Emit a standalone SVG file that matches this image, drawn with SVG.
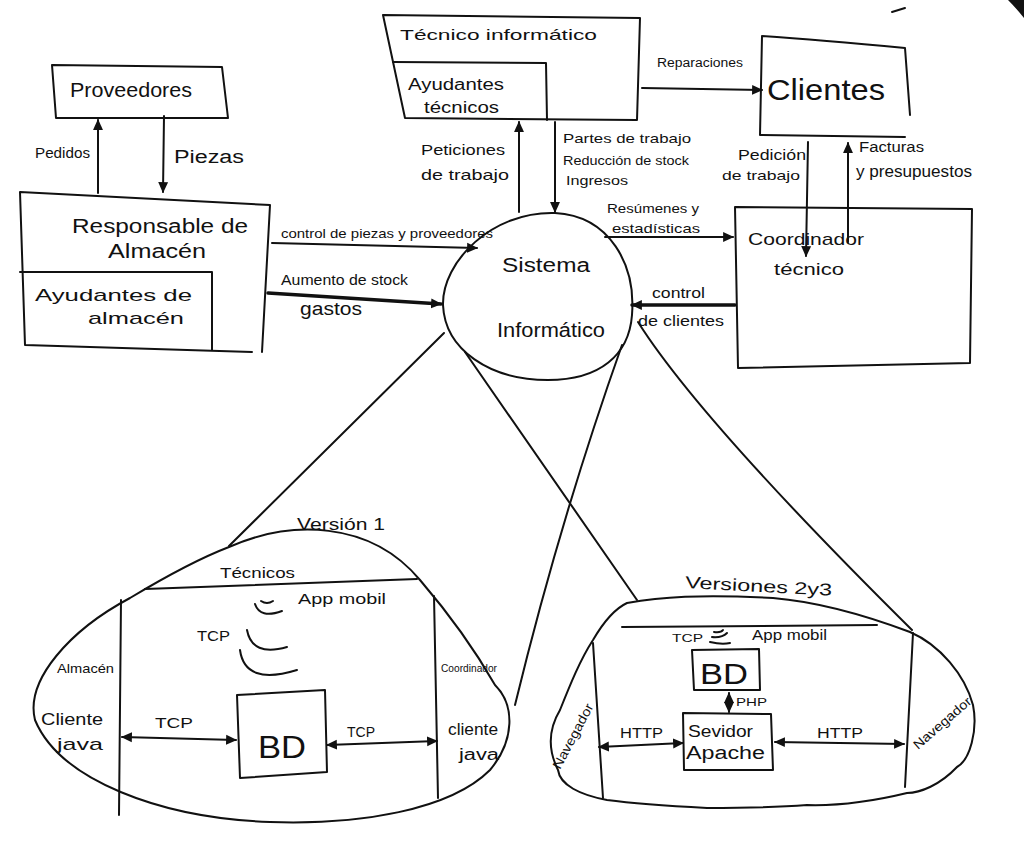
<svg xmlns="http://www.w3.org/2000/svg" width="1024" height="866" viewBox="0 0 1024 866">
  <defs>
    <marker id="head" viewBox="0 0 10 10" refX="9" refY="5" markerWidth="11" markerHeight="11" markerUnits="userSpaceOnUse" orient="auto-start-reverse">
      <path d="M0,0.5 L10,5 L0,9.5 z" fill="#111"/>
    </marker>
    <style>
      .ln { fill: none; stroke: #111; stroke-width: 2; stroke-linecap: round; stroke-linejoin: round; }
      .bold { stroke-width: 3.5; }
      .t { font-family: "Liberation Sans", "DejaVu Sans", sans-serif; fill: #111; }
    </style>
  </defs>
  <rect width="1024" height="866" fill="#fff"/>

  <!-- scanner edge marks -->
  <path d="M1008,0 Q1016,8 1024,18 L1024,0 Z" fill="#111"/>
  <path class="ln" d="M892,12 L905,8" stroke-width="2.5"/>

  <!-- Proveedores -->
  <g id="proveedores">
    <path class="ln" d="M52,65 L222,67 L228,118 L56,118 Z"/>
    <text class="t" x="70" y="97" font-size="20" textLength="122" lengthAdjust="spacingAndGlyphs">Proveedores</text>
  </g>

  <!-- Responsable de Almacén -->
  <g id="responsable-almacen">
    <path class="ln" d="M20,192 L270,205 L262,352 M252,352 L25,345 L20,192"/>
    <path class="ln" d="M20,272 L212,272 L212,350"/>
    <text class="t" x="72" y="233" font-size="20" textLength="176" lengthAdjust="spacingAndGlyphs">Responsable de</text>
    <text class="t" x="108" y="258" font-size="20" textLength="98" lengthAdjust="spacingAndGlyphs">Almacén</text>
    <text class="t" x="35" y="301" font-size="17" textLength="157" lengthAdjust="spacingAndGlyphs">Ayudantes de</text>
    <text class="t" x="88" y="324" font-size="17" textLength="96" lengthAdjust="spacingAndGlyphs">almacén</text>
  </g>

  <!-- Técnico informático -->
  <g id="tecnico-informatico">
    <path class="ln" d="M383,15 L640,18 L637,120 L405,118 Z"/>
    <path class="ln" d="M393,62 L546,63 L547,120"/>
    <text class="t" x="400" y="40" font-size="15" textLength="197" lengthAdjust="spacingAndGlyphs">Técnico informático</text>
    <text class="t" x="408" y="90" font-size="16" textLength="96" lengthAdjust="spacingAndGlyphs">Ayudantes</text>
    <text class="t" x="424" y="113" font-size="16" textLength="75" lengthAdjust="spacingAndGlyphs">técnicos</text>
  </g>

  <!-- Clientes -->
  <g id="clientes">
    <path class="ln" d="M762,36 Q820,40 905,48 L910,115 M905,137 L760,135 L762,36"/>
    <text class="t" x="767" y="100" font-size="30" textLength="118" lengthAdjust="spacingAndGlyphs">Clientes</text>
  </g>

  <!-- Coordinador técnico -->
  <g id="coordinador-tecnico">
    <path class="ln" d="M735,207 L972,209 L970,363 L738,368 Z"/>
    <text class="t" x="748" y="245" font-size="17" textLength="116" lengthAdjust="spacingAndGlyphs">Coordinador</text>
    <text class="t" x="774" y="275" font-size="17" textLength="70" lengthAdjust="spacingAndGlyphs">técnico</text>
  </g>

  <!-- Sistema Informático -->
  <g id="sistema-informatico">
    <path class="ln" d="M555,213 C610,216 636,265 632,315 C629,355 600,380 548,380 C490,380 445,350 443,305 C442,262 492,211 555,213 Z"/>
    <text class="t" x="502" y="272" font-size="20" textLength="88" lengthAdjust="spacingAndGlyphs">Sistema</text>
    <text class="t" x="497" y="337" font-size="20" textLength="108" lengthAdjust="spacingAndGlyphs">Informático</text>
  </g>

  <!-- Versión 1 -->
  <g id="version-1">
    <path class="ln" d="M229,547 C290,520 370,520 420,580 C450,615 475,650 495,685 C515,705 515,740 490,770 C450,810 360,825 270,822 C160,818 60,780 35,720 C25,680 70,630 130,598 C160,580 195,560 229,547 Z"/>
    <path class="ln" d="M145,589 L417,579"/>
    <path class="ln" d="M121,600 L119,815"/>
    <path class="ln" d="M434,596 L438,798"/>
    <path class="ln" d="M237,695 L325,690 L327,772 L240,778 Z"/>
    <path class="ln" d="M261,601 Q267,605 273,601"/>
    <path class="ln" d="M255,604 Q260,619 282,611"/>
    <path class="ln" d="M247,630 Q252,657 287,647"/>
    <path class="ln" d="M240,650 Q245,686 297,670"/>
    <path class="ln" d="M122,737 L236,740" marker-start="url(#head)" marker-end="url(#head)"/>
    <path class="ln" d="M327,745 L437,741" marker-start="url(#head)" marker-end="url(#head)"/>
    <text class="t" x="297" y="530" font-size="17" textLength="88" lengthAdjust="spacingAndGlyphs">Versión 1</text>
    <text class="t" x="220" y="578" font-size="14" textLength="75" lengthAdjust="spacingAndGlyphs">Técnicos</text>
    <text class="t" x="298" y="604" font-size="15" textLength="88" lengthAdjust="spacingAndGlyphs">App mobil</text>
    <text class="t" x="197" y="641" font-size="15" textLength="33" lengthAdjust="spacingAndGlyphs">TCP</text>
    <text class="t" x="57" y="673" font-size="13" textLength="57" lengthAdjust="spacingAndGlyphs">Almacén</text>
    <text class="t" x="41" y="725" font-size="17" textLength="62" lengthAdjust="spacingAndGlyphs">Cliente</text>
    <text class="t" x="57" y="750" font-size="17" textLength="46" lengthAdjust="spacingAndGlyphs">java</text>
    <text class="t" x="441" y="672" font-size="11" textLength="56" lengthAdjust="spacingAndGlyphs">Coordinador</text>
    <text class="t" x="448" y="735" font-size="16" textLength="50" lengthAdjust="spacingAndGlyphs">cliente</text>
    <text class="t" x="459" y="760" font-size="16" textLength="40" lengthAdjust="spacingAndGlyphs">java</text>
    <text class="t" x="155" y="728" font-size="15" textLength="38" lengthAdjust="spacingAndGlyphs">TCP</text>
    <text class="t" x="347" y="737" font-size="14" textLength="28" lengthAdjust="spacingAndGlyphs">TCP</text>
    <text class="t" x="258" y="758" font-size="32" textLength="48" lengthAdjust="spacingAndGlyphs">BD</text>
  </g>

  <!-- Versiones 2 y 3 -->
  <g id="versiones-2y3">
    <path class="ln" d="M627,603 C660,597 700,594 773,598 C820,602 870,617 910,632 C940,645 965,675 973,705 C978,730 970,760 957,767 C940,785 920,793 907,793 C870,802 840,806 807,805 C770,808 740,808 707,808 C670,806 630,803 607,800 C580,795 560,785 558,770 C548,750 548,730 560,710 C570,685 580,660 593,640 C600,628 612,610 627,603 Z"/>
    <path class="ln" d="M622,627 L877,625"/>
    <path class="ln" d="M593,643 L603,798"/>
    <path class="ln" d="M913,633 L905,787"/>
    <path class="ln" d="M692,650 L759,649 L760,690 L694,690 Z"/>
    <path class="ln" d="M683,713 L771,714 L773,770 L684,770 Z"/>
    <path class="ln" d="M714,632 Q721,633 723,630"/>
    <path class="ln" d="M712,637 Q722,638 727,633"/>
    <path class="ln" d="M710,642 Q722,645 730,643"/>
    <path class="ln" d="M729,693 L729,712" stroke-width="2.5" marker-start="url(#head)" marker-end="url(#head)"/>
    <path class="ln" d="M599,747 L683,743" marker-start="url(#head)" marker-end="url(#head)"/>
    <path class="ln" d="M775,742 L904,744" marker-start="url(#head)" marker-end="url(#head)"/>
    <text class="t" x="685" y="588" font-size="17" textLength="147" lengthAdjust="spacingAndGlyphs" transform="rotate(3 685 588)">Versiones 2y3</text>
    <text class="t" x="672" y="642" font-size="11" textLength="31" lengthAdjust="spacingAndGlyphs">TCP</text>
    <text class="t" x="752" y="640" font-size="14" textLength="75" lengthAdjust="spacingAndGlyphs">App mobil</text>
    <text class="t" x="700" y="684" font-size="30" textLength="48" lengthAdjust="spacingAndGlyphs">BD</text>
    <text class="t" x="736" y="706" font-size="11" textLength="31" lengthAdjust="spacingAndGlyphs">PHP</text>
    <text class="t" x="688" y="737" font-size="17" textLength="65" lengthAdjust="spacingAndGlyphs">Sevidor</text>
    <text class="t" x="686" y="759" font-size="18" textLength="79" lengthAdjust="spacingAndGlyphs">Apache</text>
    <text class="t" x="620" y="738" font-size="14" textLength="43" lengthAdjust="spacingAndGlyphs">HTTP</text>
    <text class="t" x="817" y="738" font-size="14" textLength="46" lengthAdjust="spacingAndGlyphs">HTTP</text>
    <text class="t" x="0" y="0" font-size="13" textLength="72" lengthAdjust="spacingAndGlyphs" transform="translate(560 770) rotate(-62)">Navegador</text>
    <text class="t" x="0" y="0" font-size="13" textLength="72" lengthAdjust="spacingAndGlyphs" transform="translate(918 750) rotate(-41)">Navegador</text>
  </g>

  <!-- connectors -->
  <g id="connectors">
    <path class="ln" d="M98,193 L98,120" marker-end="url(#head)"/>
    <path class="ln" d="M164,116 L163,192" marker-end="url(#head)"/>
    <path class="ln" d="M272,243 L477,248" marker-end="url(#head)"/>
    <path class="ln bold" d="M268,293 L441,304" marker-end="url(#head)"/>
    <path class="ln" d="M519,212 L519,122" marker-end="url(#head)"/>
    <path class="ln" d="M555,122 L555,212" marker-end="url(#head)"/>
    <path class="ln" d="M642,88 L762,90" marker-end="url(#head)"/>
    <path class="ln" d="M808,142 L806,256" marker-end="url(#head)"/>
    <path class="ln" d="M848,242 L848,143" marker-end="url(#head)"/>
    <path class="ln" d="M605,237 L733,237" marker-end="url(#head)"/>
    <path class="ln bold" d="M735,305 L632,305" marker-end="url(#head)"/>
    <path class="ln" d="M444,333 L229,546"/>
    <path class="ln" d="M465,352 L637,600"/>
    <path class="ln" d="M622,345 Q560,520 515,705"/>
    <path class="ln" d="M638,322 Q700,420 912,630"/>

    <text class="t" x="35" y="158" font-size="15" textLength="55" lengthAdjust="spacingAndGlyphs">Pedidos</text>
    <text class="t" x="174" y="163" font-size="18" textLength="70" lengthAdjust="spacingAndGlyphs">Piezas</text>
    <text class="t" x="281" y="238" font-size="13" textLength="212" lengthAdjust="spacingAndGlyphs">control de piezas y proveedores</text>
    <text class="t" x="281" y="285" font-size="14" textLength="127" lengthAdjust="spacingAndGlyphs">Aumento de stock</text>
    <text class="t" x="300" y="315" font-size="18" textLength="62" lengthAdjust="spacingAndGlyphs">gastos</text>
    <text class="t" x="421" y="155" font-size="15" textLength="84" lengthAdjust="spacingAndGlyphs">Peticiones</text>
    <text class="t" x="421" y="180" font-size="15" textLength="88" lengthAdjust="spacingAndGlyphs">de trabajo</text>
    <text class="t" x="563" y="143" font-size="13" textLength="128" lengthAdjust="spacingAndGlyphs">Partes de trabajo</text>
    <text class="t" x="563" y="165" font-size="13" textLength="126" lengthAdjust="spacingAndGlyphs">Reducción de stock</text>
    <text class="t" x="566" y="185" font-size="13" textLength="62" lengthAdjust="spacingAndGlyphs">Ingresos</text>
    <text class="t" x="657" y="67" font-size="12" textLength="86" lengthAdjust="spacingAndGlyphs">Reparaciones</text>
    <text class="t" x="738" y="160" font-size="14" textLength="68" lengthAdjust="spacingAndGlyphs">Pedición</text>
    <text class="t" x="722" y="180" font-size="13" textLength="78" lengthAdjust="spacingAndGlyphs">de trabajo</text>
    <text class="t" x="859" y="152" font-size="14" textLength="65" lengthAdjust="spacingAndGlyphs">Facturas</text>
    <text class="t" x="856" y="177" font-size="16" textLength="116" lengthAdjust="spacingAndGlyphs">y presupuestos</text>
    <text class="t" x="607" y="213" font-size="13" textLength="92" lengthAdjust="spacingAndGlyphs">Resúmenes y</text>
    <text class="t" x="612" y="233" font-size="13" textLength="88" lengthAdjust="spacingAndGlyphs">estadísticas</text>
    <text class="t" x="652" y="298" font-size="14" textLength="53" lengthAdjust="spacingAndGlyphs">control</text>
    <text class="t" x="638" y="326" font-size="15" textLength="86" lengthAdjust="spacingAndGlyphs">de clientes</text>
  </g>
</svg>
